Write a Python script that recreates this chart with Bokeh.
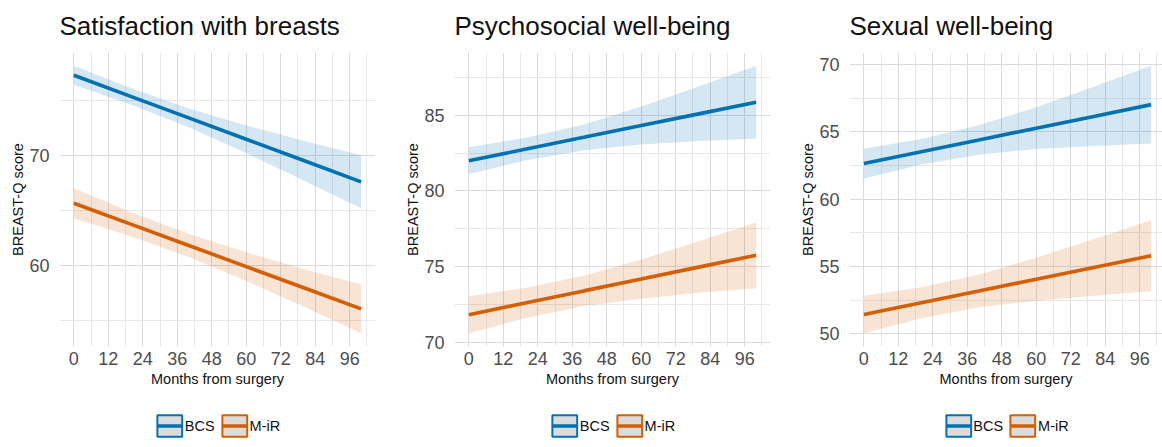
from bokeh.plotting import figure
from bokeh.layouts import row, column
from bokeh.models import Range1d, FixedTicker, Legend, LegendItem, ColumnDataSource
from bokeh.embed import file_html
from bokeh.resources import INLINE

# ---------------- data ----------------
months = [0, 20, 40, 60, 80, 100]
x_ticks = [0, 12, 24, 36, 48, 60, 72, 84, 96]
x_minor = [6, 18, 30, 42, 54, 66, 78, 90, 102]
groups = ["BCS", "M-iR"]
titles = ["Satisfaction with breasts", "Psychosocial well-being", "Sexual well-being"]

# Satisfaction with breasts
sat_bcs_fit = [77.25, 75.32, 73.39, 71.46, 69.53, 67.60]
sat_bcs_hi = [78.10, 76.07, 74.24, 72.71, 71.33, 70.00]
sat_bcs_lo = [76.40, 74.57, 72.54, 70.21, 67.73, 65.20]
sat_mir_fit = [65.66, 63.75, 61.84, 59.92, 58.01, 56.10]
sat_mir_hi = [67.01, 64.85, 62.89, 61.22, 59.71, 58.30]
sat_mir_lo = [64.31, 62.65, 60.79, 58.62, 56.31, 53.90]

# Psychosocial well-being
psy_bcs_fit = [82.00, 82.77, 83.54, 84.32, 85.09, 85.86]
psy_bcs_hi = [82.88, 83.52, 84.39, 85.57, 86.89, 88.26]
psy_bcs_lo = [81.12, 82.02, 82.69, 83.07, 83.29, 83.46]
psy_mir_fit = [71.83, 72.61, 73.40, 74.18, 74.97, 75.75]
psy_mir_hi = [73.05, 73.61, 74.40, 75.48, 76.67, 77.92]
psy_mir_lo = [70.61, 71.61, 72.40, 72.88, 73.27, 73.58]

# Sexual well-being
sex_bcs_fit = [62.65, 63.53, 64.40, 65.28, 66.15, 67.03]
sex_bcs_hi = [63.76, 64.48, 65.50, 66.83, 68.35, 69.91]
sex_bcs_lo = [61.54, 62.58, 63.30, 63.73, 63.95, 64.15]
sex_mir_fit = [51.44, 52.31, 53.18, 54.06, 54.93, 55.80]
sex_mir_hi = [52.83, 53.46, 54.38, 55.66, 57.03, 58.43]
sex_mir_lo = [50.05, 51.16, 51.98, 52.46, 52.83, 53.17]

sat_y_ticks = [60, 70]
sat_y_minor = [55, 65, 75]
psy_y_ticks = [70, 75, 80, 85]
psy_y_minor = [72.5, 77.5, 82.5, 87.5]
sex_y_ticks = [50, 55, 60, 65, 70]
sex_y_minor = [52.5, 57.5, 62.5, 67.5]

# ---------------- style ----------------
FONT = "Liberation Sans"
COLORS = ["#0072B2", "#D55E00"]
H_MAIN = 394
H_LEG = 51
BORDER_L = 59
BORDER_T = 52
BORDER_B = 48
FULL_W = 395
FULL_R = 20
FULL_FRAME = FULL_W - BORDER_L - FULL_R
NAN = float("nan")


def make_panel(title, series, y_ticks, y_minor, width, border_r):
    frame_w = width - BORDER_L - border_r
    x_end = -5 + frame_w * 110.0 / FULL_FRAME
    lows = [v for s in series for v in s[2]]
    highs = [v for s in series for v in s[1]]
    lo, hi = min(lows), max(highs)
    pad = 0.05 * (hi - lo)
    p = figure(width=width, height=H_MAIN, output_backend="svg", toolbar_location=None,
               x_range=Range1d(-5, x_end), y_range=Range1d(lo - pad, hi + pad),
               min_border_left=BORDER_L, min_border_right=border_r,
               min_border_top=BORDER_T, min_border_bottom=BORDER_B,
               background_fill_color="white", border_fill_color="white")
    p.outline_line_color = None

    p.title.text = title
    p.title.text_font = FONT
    p.title.text_font_size = "26px"
    p.title.text_font_style = "normal"
    p.title.text_color = "#111111"
    p.title.standoff = 19
    p.title.vertical_align = "top"

    xt = FixedTicker(ticks=x_ticks, minor_ticks=x_minor)
    yt = FixedTicker(ticks=y_ticks, minor_ticks=y_minor)
    p.xaxis.ticker = xt
    p.yaxis.ticker = yt
    p.xgrid.ticker = xt
    p.ygrid.ticker = yt
    for g in (p.xgrid, p.ygrid):
        g.grid_line_color = "#dadada"
        g.grid_line_width = 1
        g.minor_grid_line_color = "#e8e8e8"
        g.minor_grid_line_width = 1

    for ax in (p.xaxis, p.yaxis):
        ax.axis_line_color = None
        ax.major_tick_line_color = None
        ax.minor_tick_line_color = None
        ax.major_label_text_font = FONT
        ax.major_label_text_font_size = "18px"
        ax.major_label_text_color = "#4d4d4d"
        ax.axis_label_text_font = FONT
        ax.axis_label_text_font_size = "14.5px"
        ax.axis_label_text_font_style = "normal"
        ax.axis_label_text_color = "#111111"
    p.xaxis.axis_label = "Months from surgery"
    p.yaxis.axis_label = "BREAST-Q score"
    p.xaxis.major_label_standoff = -1
    p.xaxis.axis_label_standoff = 3
    p.yaxis.major_label_standoff = 4
    p.yaxis.axis_label_standoff = 0

    for (fit, hi_, lo_), color in zip(series, COLORS):
        src = ColumnDataSource(dict(x=months, fit=fit, hi=hi_, lo=lo_))
        p.varea(x="x", y1="lo", y2="hi", source=src, fill_color=color, fill_alpha=0.17)
        p.line(x="x", y="fit", source=src, line_color=color, line_width=3.6)

    # legend strip below the panel
    lf = figure(width=width, height=H_LEG, output_backend="svg", toolbar_location=None,
                x_range=Range1d(0, 1), y_range=Range1d(0, 1),
                min_border_left=BORDER_L, min_border_right=border_r,
                min_border_top=0, min_border_bottom=0,
                background_fill_color="white", border_fill_color="white")
    lf.outline_line_color = None
    lf.xaxis.visible = False
    lf.yaxis.visible = False
    lf.xgrid.visible = False
    lf.ygrid.visible = False
    items = []
    for color, name in zip(COLORS, groups):
        key_src = ColumnDataSource(dict(l=[NAN], r=[NAN], t=[NAN], b=[NAN], x=[NAN], y=[NAN]))
        box = lf.quad(left="l", right="r", top="t", bottom="b", source=key_src,
                      fill_color="#dcdcdc", line_color=color, line_width=2)
        # dash pattern keeps the key's line inside the key box
        ln = lf.line(x="x", y="y", source=key_src, line_color=color, line_width=3.6,
                     line_dash="0 3 25 100")
        items.append(LegendItem(label=name, renderers=[box, ln]))
    legend = Legend(items=items, orientation="horizontal", location="bottom",
                    glyph_width=31, glyph_height=27, label_height=27,
                    label_standoff=0, spacing=4, padding=0, margin=6,
                    label_text_font=FONT, label_text_font_size="14.5px",
                    label_text_color="#111111", label_text_baseline="middle",
                    border_line_color=None, background_fill_alpha=0)
    lf.add_layout(legend, "center")
    return column(p, lf, spacing=0)


p1 = make_panel(titles[0], [(sat_bcs_fit, sat_bcs_hi, sat_bcs_lo), (sat_mir_fit, sat_mir_hi, sat_mir_lo)],
                sat_y_ticks, sat_y_minor, FULL_W, FULL_R)
p2 = make_panel(titles[1], [(psy_bcs_fit, psy_bcs_hi, psy_bcs_lo), (psy_mir_fit, psy_mir_hi, psy_mir_lo)],
                psy_y_ticks, psy_y_minor, FULL_W, FULL_R)
p3 = make_panel(titles[2], [(sex_bcs_fit, sex_bcs_hi, sex_bcs_lo), (sex_mir_fit, sex_mir_hi, sex_mir_lo)],
                sex_y_ticks, sex_y_minor, 1162 - 2 * FULL_W, 0)

layout = row(p1, p2, p3, spacing=0)
open("out.html", "w").write(file_html(layout, INLINE))
